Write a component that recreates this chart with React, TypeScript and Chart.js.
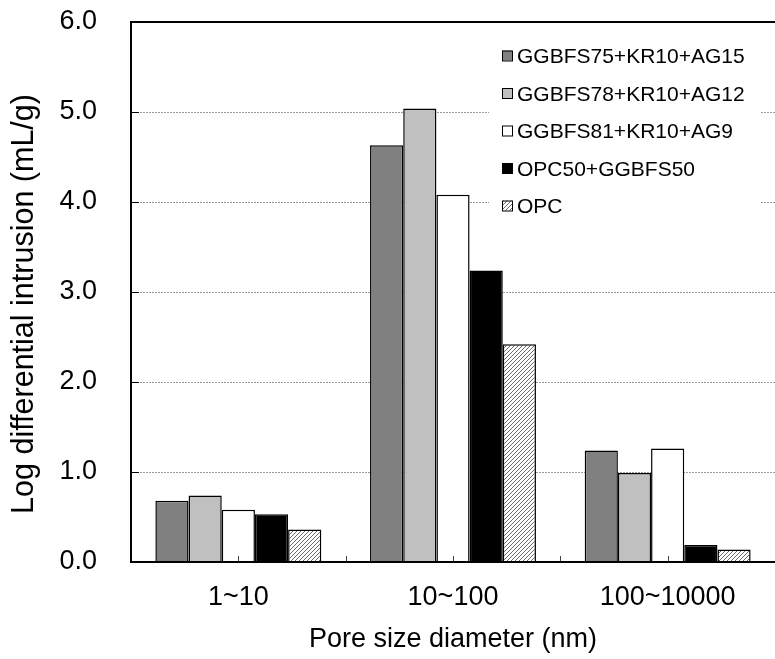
import React, { useEffect, useRef } from "react";
import { Chart, registerables } from "chart.js";

Chart.register(...registerables);

const categories = ["1~10", "10~100", "100~10000"];
const seriesNames = ["GGBFS75+KR10+AG15", "GGBFS78+KR10+AG12", "GGBFS81+KR10+AG9", "OPC50+GGBFS50", "OPC"];
const ggbfs75 = [0.68, 4.63, 1.24];
const ggbfs78 = [0.74, 5.04, 0.99];
const ggbfs81 = [0.58, 4.08, 1.26];
const opc50 = [0.53, 3.24, 0.19];
const opc = [0.36, 2.42, 0.14];
const seriesValues = [ggbfs75, ggbfs78, ggbfs81, opc50, opc];
const yTicks = [0, 1, 2, 3, 4, 5, 6];
const yTitle = "Log differential intrusion (mL/g)";

const FONT = "'Liberation Sans', Arial, sans-serif";

function makeHatch(): CanvasPattern | string {
  const c = document.createElement("canvas");
  c.width = 4;
  c.height = 4;
  const g = c.getContext("2d");
  if (!g) return "#ccc";
  g.fillStyle = "#ffffff";
  g.fillRect(0, 0, 4, 4);
  g.strokeStyle = "#6a6a6a";
  g.lineWidth = 1;
  g.beginPath();
  g.moveTo(0, 4);
  g.lineTo(4, 0);
  g.moveTo(-1, 1);
  g.lineTo(1, -1);
  g.moveTo(3, 5);
  g.lineTo(5, 3);
  g.stroke();
  const p = g.createPattern(c, "repeat");
  return p || "#ccc";
}

export default function App() {
  const ref = useRef<HTMLCanvasElement>(null);

  useEffect(() => {
    if (!ref.current) return;
    const hatch = makeHatch();
    const fills: any[] = ["#808080", "#c0c0c0", "#ffffff", "#000000", hatch];

    const gridPlugin = {
      id: "gridPlugin",
      beforeDatasetsDraw(chart: any) {
        const { ctx, chartArea, scales } = chart;
        const y = scales.y;
        ctx.save();
        ctx.strokeStyle = "#9a9a9a";
        ctx.lineWidth = 1;
        ctx.setLineDash([2, 1]);
        yTicks.forEach((v) => {
          if (v === 0 || v === 6) return;
          const py = Math.round(y.getPixelForValue(v)) + 0.5;
          ctx.beginPath();
          ctx.moveTo(chartArea.left, py);
          ctx.lineTo(chartArea.right, py);
          ctx.stroke();
        });
        ctx.restore();
      },
      afterDatasetsDraw(chart: any) {
        const { ctx, chartArea, scales } = chart;
        const y = scales.y;
        const x = scales.x;
        ctx.save();
        // y inward ticks
        ctx.strokeStyle = "#000";
        ctx.lineWidth = 1;
        yTicks.forEach((v) => {
          const py = Math.round(y.getPixelForValue(v)) + 0.5;
          ctx.beginPath();
          ctx.moveTo(chartArea.left, py);
          ctx.lineTo(chartArea.left + 8, py);
          ctx.stroke();
        });
        // x inward ticks at centers and boundaries
        ctx.strokeStyle = "#444";
        categories.forEach((_, i) => {
          const c = x.getPixelForValue(i);
          const half = (x.getPixelForValue(1) - x.getPixelForValue(0)) / 2;
          [c, c + half].forEach((px) => {
            const xx = Math.round(px) + 0.5;
            ctx.beginPath();
            ctx.moveTo(xx, chartArea.bottom);
            ctx.lineTo(xx, chartArea.bottom - 6);
            ctx.stroke();
          });
        });
        // axes + top border
        ctx.strokeStyle = "#000";
        ctx.lineWidth = 2;
        ctx.beginPath();
        ctx.moveTo(chartArea.left, chartArea.top);
        ctx.lineTo(chartArea.right, chartArea.top);
        ctx.moveTo(chartArea.left, chartArea.top - 1);
        ctx.lineTo(chartArea.left, chartArea.bottom + 1);
        ctx.moveTo(chartArea.left - 1, chartArea.bottom);
        ctx.lineTo(chartArea.right, chartArea.bottom);
        ctx.stroke();

        // y axis title
        ctx.save();
        ctx.translate(25, 304);
        ctx.rotate(-Math.PI / 2);
        ctx.font = `30.5px ${FONT}`;
        ctx.fillStyle = "#000";
        ctx.textAlign = "center";
        ctx.textBaseline = "middle";
        ctx.fillText(yTitle, 0, 0);
        ctx.restore();

        // legend
        ctx.fillStyle = "#fff";
        ctx.fillRect(489, 36, 272, 188);
        const rows = [55.5, 93, 130.5, 168, 205.5];
        ctx.font = `21px ${FONT}`;
        ctx.textBaseline = "alphabetic";
        ctx.textAlign = "left";
        seriesNames.forEach((name, i) => {
          const cy = rows[i];
          ctx.fillStyle = fills[i];
          ctx.fillRect(502, cy - 5, 10, 10);
          ctx.strokeStyle = "#000";
          ctx.lineWidth = 1;
          ctx.strokeRect(502.5, cy - 4.5, 10, 10);
          ctx.fillStyle = "#000";
          ctx.fillText(name, 517, cy + 7.5);
        });
        ctx.restore();
      },
    };

    const chart = new Chart(ref.current, {
      type: "bar",
      data: {
        labels: categories,
        datasets: seriesNames.map((name, i) => ({
          label: name,
          data: seriesValues[i],
          backgroundColor: fills[i],
          borderColor: "#000",
          borderWidth: 1.5,
          categoryPercentage: 0.773,
          barPercentage: 1,
        })),
      },
      options: {
        responsive: false,
        animation: false,
        layout: { padding: { top: 22, right: 0, bottom: 0, left: 0 } },
        plugins: {
          legend: { display: false },
          tooltip: { enabled: false },
        },
        scales: {
          x: {
            grid: { display: false, drawTicks: false },
            border: { display: false },
            ticks: {
              color: "#000",
              font: { family: FONT, size: 27 },
              padding: 19,
            },
            title: {
              display: true,
              text: "Pore size diameter (nm)",
              color: "#000",
              font: { family: FONT, size: 27 },
              padding: { top: 0, bottom: 3 },
            },
            afterFit(scale: any) {
              scale.height = 97;
              scale.paddingLeft = 0;
              scale.paddingRight = 0;
            },
          },
          y: {
            min: 0,
            max: 6,
            grid: { display: false, drawTicks: false },
            border: { display: false },
            ticks: {
              stepSize: 1,
              color: "#000",
              font: { family: FONT, size: 27 },
              padding: 34,
              callback: (v: any) => Number(v).toFixed(1),
            },
            title: { display: false },
            afterFit(scale: any) {
              scale.width = 131;
              scale.paddingTop = 0;
              scale.paddingBottom = 0;
            },
          },
        },
      },
      plugins: [gridPlugin],
    });
    return () => chart.destroy();
  }, []);

  return (
    <div style={{ position: "absolute", left: 0, top: 0, width: 775, height: 659, background: "#fff" }}>
      <canvas ref={ref} width={775} height={659} style={{ display: "block" }} />
    </div>
  );
}
